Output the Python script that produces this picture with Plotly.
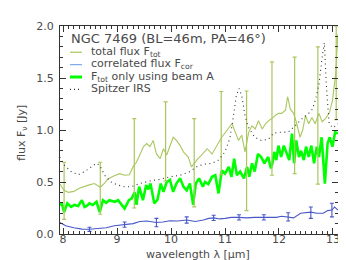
import plotly.graph_objects as go

# ---------------- data ----------------
tot_wl = [7.94, 8.02, 8.10, 8.20, 8.30, 8.40, 8.47, 8.58, 8.69, 8.77, 8.83, 8.95, 9.05, 9.14, 9.23,
          9.30, 9.36, 9.43, 9.49, 9.55, 9.61, 9.67, 9.73, 9.80, 9.86, 9.92, 9.98, 10.04, 10.10,
          10.17, 10.23, 10.32, 10.38, 10.44, 10.50, 10.57, 10.67, 10.76, 10.85, 10.94, 11.04,
          11.13, 11.19, 11.25, 11.31, 11.37, 11.44, 11.50, 11.56, 11.62, 11.69, 11.75, 11.81,
          11.87, 11.93, 11.99, 12.05, 12.12, 12.16, 12.21, 12.27, 12.33, 12.39, 12.44, 12.49,
          12.55, 12.61, 12.67, 12.74, 12.80, 12.86, 12.93, 12.99, 13.05, 13.09]
tot_flux = [0.48, 0.42, 0.40, 0.41, 0.44, 0.46, 0.47, 0.485, 0.45, 0.49, 0.53, 0.56, 0.58, 0.565, 0.57,
            0.65, 0.69, 0.77, 0.84, 0.87, 0.84, 0.90, 0.77, 0.725, 0.82, 0.76, 0.84, 0.93, 0.90,
            0.85, 0.79, 0.74, 0.645, 0.69, 0.725, 0.76, 0.82, 0.77, 0.85, 0.93, 1.00,
            1.06, 0.98, 0.90, 0.95, 0.79, 0.98, 1.04, 1.01, 1.09, 1.01, 1.06, 1.09,
            1.11, 1.14, 1.16, 1.16, 1.19, 1.32, 1.20, 1.16, 1.06, 0.93, 1.00, 1.14,
            1.06, 1.12, 1.06, 1.16, 1.08, 1.11, 1.16, 1.28, 1.54, 1.92]

tot_err_wl = [8.02, 8.69, 9.32, 9.90, 10.43, 10.93, 11.40, 11.87, 12.29, 12.72, 13.06]
tot_err_mid = [0.415, 0.44, 0.68, 0.89, 0.685, 0.97, 0.80, 1.11, 1.14, 1.14, 1.55]
tot_err_size = [0.275, 0.25, 0.43, 0.38, 0.425, 0.40, 0.575, 0.545, 0.56, 0.66, 0.45]

cor_wl = [7.94, 8.05, 8.20, 8.35, 8.49, 8.65, 8.80, 8.95, 9.14, 9.30, 9.42, 9.55, 9.73, 9.85, 9.98,
          10.12, 10.29, 10.45, 10.60, 10.70, 10.79, 10.90, 11.00, 11.12, 11.26, 11.40, 11.55,
          11.72, 11.85, 11.95, 12.05, 12.17, 12.27, 12.40, 12.50, 12.59, 12.70, 12.82, 12.90,
          12.98, 13.03, 13.09]
cor_flux = [0.11, 0.08, 0.06, 0.047, 0.045, 0.05, 0.06, 0.08, 0.09, 0.10, 0.12, 0.125, 0.11, 0.115, 0.128,
            0.125, 0.135, 0.12, 0.135, 0.15, 0.155, 0.145, 0.15, 0.16, 0.16, 0.155, 0.16,
            0.16, 0.165, 0.16, 0.17, 0.165, 0.155, 0.20, 0.205, 0.21, 0.20, 0.20, 0.225,
            0.23, 0.26, 0.23]

cor_err_wl = [8.49, 9.14, 9.73, 10.29, 10.79, 11.26, 11.72, 12.17, 12.59, 12.98]
cor_err_mid = [0.045, 0.09, 0.11, 0.135, 0.155, 0.16, 0.16, 0.165, 0.205, 0.23]
cor_err_size = [0.02, 0.025, 0.04, 0.03, 0.025, 0.025, 0.025, 0.04, 0.055, 0.065]

beamA_wl = [7.94, 7.98, 8.02, 8.08, 8.15, 8.21, 8.28, 8.35, 8.40, 8.44, 8.49, 8.55, 8.62, 8.68, 8.74,
            8.80, 8.86, 8.91, 8.96, 9.02, 9.08, 9.14, 9.22, 9.27, 9.30, 9.33, 9.36, 9.41, 9.48,
            9.54, 9.58, 9.62, 9.69, 9.75, 9.81, 9.86, 9.92, 9.98, 10.04, 10.10, 10.17, 10.23,
            10.29, 10.35, 10.41, 10.46, 10.52, 10.59, 10.63, 10.69, 10.76, 10.82, 10.88, 10.94,
            11.00, 11.07, 11.12, 11.17, 11.22, 11.28, 11.35, 11.41, 11.45, 11.50, 11.55, 11.61,
            11.67, 11.73, 11.80, 11.85, 11.88, 11.91, 11.95, 11.99, 12.04, 12.09, 12.14, 12.19,
            12.24, 12.28, 12.32, 12.37, 12.41, 12.46, 12.50, 12.55, 12.60, 12.65, 12.70, 12.74,
            12.79, 12.85, 12.90, 12.94, 12.99, 13.04, 13.09]
beamA_flux = [0.28, 0.29, 0.21, 0.295, 0.26, 0.28, 0.27, 0.325, 0.26, 0.27, 0.295, 0.28, 0.31, 0.21, 0.325,
              0.30, 0.325, 0.32, 0.31, 0.325, 0.29, 0.245, 0.325, 0.34, 0.375, 0.40, 0.28, 0.455, 0.325,
              0.47, 0.43, 0.485, 0.295, 0.33, 0.485, 0.405, 0.50, 0.52, 0.405, 0.485, 0.535, 0.455,
              0.42, 0.485, 0.28, 0.485, 0.535, 0.455, 0.50, 0.48, 0.55, 0.565, 0.39, 0.61,
              0.58, 0.645, 0.55, 0.725, 0.565, 0.60, 0.535, 0.645, 0.55, 0.68, 0.60, 0.77,
              0.74, 0.68, 0.74, 0.63, 0.68, 0.79, 0.71, 0.85, 0.74, 0.85, 0.78, 0.71,
              0.965, 0.68, 0.90, 0.74, 0.80, 0.71, 0.84, 0.74, 0.85, 0.68, 0.84, 0.74,
              0.93, 0.485, 0.87, 0.93, 0.84, 0.98, 0.965]

irs_wl = [7.94, 8.03, 8.15, 8.28, 8.40, 8.52, 8.62, 8.68, 8.77, 8.89, 9.02, 9.14, 9.27, 9.42, 9.61,
          9.79, 9.98, 10.17, 10.35, 10.47, 10.60, 10.76, 10.88, 11.00, 11.09, 11.15, 11.21, 11.26,
          11.31, 11.37, 11.43, 11.55, 11.67, 11.80, 11.90, 12.05, 12.17, 12.30, 12.43, 12.55,
          12.62, 12.68, 12.74, 12.80, 12.84, 12.88, 12.93, 13.00, 13.09]
irs_flux = [0.74, 0.66, 0.60, 0.57, 0.60, 0.645, 0.68, 0.66, 0.565, 0.50, 0.47, 0.455, 0.455, 0.485, 0.51,
            0.525, 0.55, 0.565, 0.60, 0.645, 0.67, 0.68, 0.71, 0.79, 0.92, 1.11, 1.33, 1.40,
            1.33, 1.14, 1.03, 0.93, 0.90, 0.91, 0.97, 0.98, 0.98, 1.04, 1.11, 1.16,
            1.20, 1.30, 1.44, 1.70, 1.84, 1.40, 1.06, 1.02, 1.06]

x_ticks = [8, 9, 10, 11, 12, 13]
y_ticks = [0.0, 0.5, 1.0, 1.5, 2.0]
x_range = [7.944, 13.093]
y_range = [0.0, 2.0]

# ---------------- style ----------------
OLIVE = "#a9c75e"
BLUE = "#4858c6"
BLUE_LEG = "#7fa8ec"
GREEN = "#00ff00"
DOT = "#333333"
TXT = "#4a4a4a"
AX = "#333333"
FONT = "DejaVu Sans"

W, H = 346, 260
L, R, T, B = 52, 16, 16, 34
PW, PH = W - L - R, H - T - B


def px(xp):
    return (xp - L) / PW


def py(yp):
    return (H - B - yp) / PH


fig = go.Figure()

fig.add_trace(go.Scatter(x=beamA_wl, y=beamA_flux, mode="lines",
                         line=dict(color=GREEN, width=2.6), showlegend=False))
fig.add_trace(go.Scatter(x=tot_wl, y=tot_flux, mode="lines",
                         line=dict(color=OLIVE, width=1.1), showlegend=False))
fig.add_trace(go.Scatter(x=tot_err_wl, y=tot_err_mid, mode="markers",
                         marker=dict(size=1, color=OLIVE, opacity=0),
                         error_y=dict(type="data", array=tot_err_size, color=OLIVE,
                                      thickness=1.2, width=2),
                         showlegend=False))
fig.add_trace(go.Scatter(x=cor_wl, y=cor_flux, mode="lines",
                         line=dict(color=BLUE, width=1.1), showlegend=False))
fig.add_trace(go.Scatter(x=cor_err_wl, y=cor_err_mid, mode="markers",
                         marker=dict(size=1, color=BLUE, opacity=0),
                         error_y=dict(type="data", array=cor_err_size, color=BLUE,
                                      thickness=1.1, width=2),
                         showlegend=False))
fig.add_trace(go.Scatter(x=irs_wl, y=irs_flux, mode="lines",
                         line=dict(color=DOT, width=1.1, dash="1px,3.5px"), showlegend=False))

# ---------------- custom legend ----------------
annotations = []
shapes = []
annotations.append(dict(xref="paper", yref="paper", x=px(61), y=py(29),
                        xanchor="left", yanchor="middle", showarrow=False,
                        text="NGC 7469 (BL=46m, PA=46°)",
                        font=dict(family=FONT, size=13, color=TXT)))
leg_rows = [
    ("total flux F<sub>tot</sub>", OLIVE, 1.2, "solid", 42.5),
    ("correlated flux F<sub>cor</sub>", BLUE_LEG, 1.2, "solid", 55),
    ("F<sub>tot</sub> only using beam A", GREEN, 3, "solid", 67.5),
    ("Spitzer IRS", DOT, 1.1, "1px,3px", 80),
]
for label, col, wd, dash, yy in leg_rows:
    shapes.append(dict(type="line", xref="paper", yref="paper",
                       x0=px(62), x1=px(74), y0=py(yy), y1=py(yy),
                       line=dict(color=col, width=wd, dash=dash)))
    annotations.append(dict(xref="paper", yref="paper", x=px(81), y=py(yy - 0.5),
                            xanchor="left", yanchor="middle", showarrow=False,
                            text=label, font=dict(family=FONT, size=11, color=TXT)))

# axis titles
annotations.append(dict(xref="paper", yref="paper", x=px(190), y=py(246.5),
                        xanchor="center", yanchor="middle", showarrow=False,
                        text="wavelength λ [μm]", font=dict(family=FONT, size=11, color=TXT)))
annotations.append(dict(xref="paper", yref="paper", x=px(14), y=py(124),
                        xanchor="center", yanchor="middle", showarrow=False, textangle=-90,
                        text="flux F<sub>ν</sub> [Jy]", font=dict(family=FONT, size=11, color=TXT)))

axis_common = dict(showgrid=False, zeroline=False, showline=True, linecolor=AX, linewidth=1,
                   mirror="ticks", ticks="inside", ticklen=6, tickwidth=1, tickcolor=AX,
                   tickfont=dict(family=FONT, size=11, color=TXT))

fig.update_layout(
    width=W, height=H,
    margin=dict(l=L, r=R, t=T, b=B),
    paper_bgcolor="white", plot_bgcolor="white",
    showlegend=False,
    xaxis=dict(range=x_range, tickmode="array", tickvals=x_ticks,
               ticktext=[str(v) for v in x_ticks],
               minor=dict(dtick=0.1, tick0=8, ticks="inside", ticklen=3, tickcolor=AX, showgrid=False),
               ticklabelstandoff=-5, **axis_common),
    yaxis=dict(range=y_range, tickmode="array", tickvals=y_ticks,
               ticktext=[f"{v:.1f}" for v in y_ticks],
               minor=dict(dtick=0.1, tick0=0, ticks="inside", ticklen=3, tickcolor=AX, showgrid=False),
               ticklabelstandoff=3, **axis_common),
    annotations=annotations,
    shapes=shapes,
)

fig.write_html("out.html")
